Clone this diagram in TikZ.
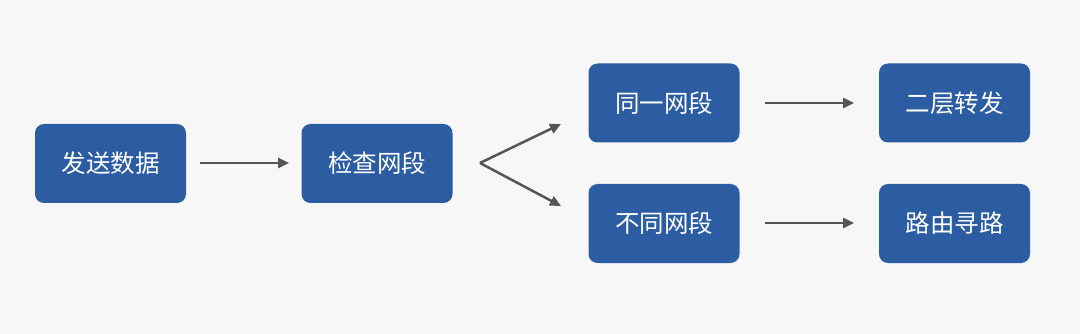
\documentclass[tikz,border=0pt]{standalone}
\usepackage{fontspec}
\setmainfont{Noto Sans CJK SC}
\usetikzlibrary{arrows.meta}
\definecolor{bg}{HTML}{F7F7F7}
\definecolor{boxblue}{HTML}{2C5DA2}
\definecolor{arrowgrey}{HTML}{555555}
\tikzset{
  stepbox/.style={fill=boxblue, rounded corners=9pt, minimum width=151pt, minimum height=79pt, text=white, font=\fontsize{24.5pt}{28pt}\selectfont, inner sep=0pt},
  link/.style={draw=arrowgrey, line width=2.5pt, -{Triangle[length=11pt,width=10pt]}}
}
\begin{document}
\begin{tikzpicture}[x=1pt,y=-1pt]
\fill[bg] (0,0) rectangle (1080,334);
\useasboundingbox (0,0) rectangle (1080,334);
\node[stepbox] (send) at (110.5,163.5) {发送数据};
\node[stepbox] (check) at (377,163.5) {检查网段};
\node[stepbox] (same) at (664,103) {同一网段};
\node[stepbox] (diff) at (664,223.5) {不同网段};
\node[stepbox] (l2) at (954.5,103) {二层转发};
\node[stepbox] (route) at (954.5,223.5) {路由寻路};
\coordinate (a1s) at (200,163);
\coordinate (a1e) at (289,163);
\coordinate (fork) at (480,163);
\coordinate (up) at (561,124);
\coordinate (down) at (561,206);
\coordinate (a2s) at (765,103);
\coordinate (a2e) at (854,103);
\coordinate (a3s) at (765,223);
\coordinate (a3e) at (854,223);
\draw[link] (a1s) -- (a1e);
\draw[link] (fork) -- (up);
\draw[link] (fork) -- (down);
\draw[link] (a2s) -- (a2e);
\draw[link] (a3s) -- (a3e);
\end{tikzpicture}
\end{document}
